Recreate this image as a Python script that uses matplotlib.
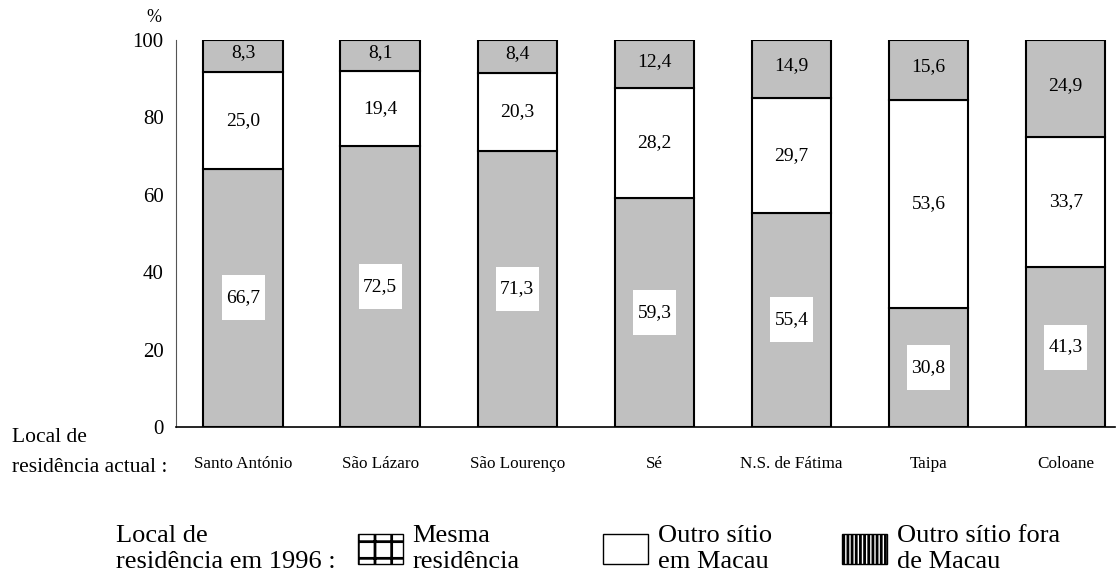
import matplotlib
matplotlib.use("Agg")
import matplotlib.pyplot as plt
from matplotlib.patches import Patch
import numpy as np

plt.rcParams["font.family"] = ["Liberation Serif", "DejaVu Serif"]
plt.rcParams["hatch.linewidth"] = 2.0

# Local de residencia actual
districts = ["Santo António", "São Lázaro", "São Lourenço", "Sé",
             "N.S. de Fátima", "Taipa", "Coloane"]
# Local de residencia em 1996 (%)
mesma = [66.7, 72.5, 71.3, 59.3, 55.4, 30.8, 41.3]
outro_macau = [25.0, 19.4, 20.3, 28.2, 29.7, 53.6, 33.7]
fora_macau = [8.3, 8.1, 8.4, 12.4, 14.9, 15.6, 24.9]

legend_labels = ["Mesma\nresidência", "Outro sítio\nem Macau", "Outro sítio fora\nde Macau"]

gray = "#c0c0c0"

fig = plt.figure(figsize=(11.18, 5.74), dpi=100)
ax = fig.add_axes([176 / 1118, 1 - 427 / 574, (1115 - 176) / 1118, (427 - 40) / 574])

x = np.arange(len(districts))
w = 0.58
mesma = np.array(mesma)
outro_macau = np.array(outro_macau)
fora_macau = np.array(fora_macau)

ax.bar(x, mesma, w, color=gray, edgecolor="black", linewidth=1.5)
ax.bar(x, outro_macau, w, bottom=mesma, color="white", edgecolor="black", linewidth=1.5)
ax.bar(x, fora_macau, w, bottom=mesma + outro_macau, color=gray,
       edgecolor="black", linewidth=1.5)

# white label backdrops inside the bottom segment
box_h = 11.6
ax.bar(x, box_h, 0.315, bottom=mesma / 2 - box_h / 2, color="white", linewidth=0)

def fmt(v):
    return f"{v:.1f}".replace(".", ",")

for i in range(len(districts)):
    ax.text(x[i], mesma[i] / 2, fmt(mesma[i]), ha="center", va="center", fontsize=14)
    ax.text(x[i], mesma[i] + outro_macau[i] / 2, fmt(outro_macau[i]),
            ha="center", va="center", fontsize=14)
    ax.text(x[i], mesma[i] + outro_macau[i] + fora_macau[i] / 2 + 0.8, fmt(fora_macau[i]),
            ha="center", va="center", fontsize=14)

ax.set_xlim(-0.49, 6.36)
ax.set_ylim(0, 100)
ax.set_yticks([0, 20, 40, 60, 80, 100])
ax.tick_params(axis="y", length=0, labelsize=15, pad=9)
ax.set_xticks(x)
ax.set_xticklabels(districts)
ax.tick_params(axis="x", length=0, labelsize=12.3, pad=21)
for s in ["top", "right"]:
    ax.spines[s].set_visible(False)
ax.spines["left"].set_color("#555555")
ax.spines["bottom"].set_linewidth(1.2)

fig.text(154 / 1118, 1 - 18 / 574, "%", ha="center", va="center", fontsize=13)
fig.text(12 / 1118, 1 - 438 / 574, "Local de", ha="left", va="center", fontsize=15.5)
fig.text(12 / 1118, 1 - 467 / 574, "residência actual :", ha="left", va="center", fontsize=15.5)

# legend
fig.text(116 / 1118, 1 - 549 / 574, "Local de\nresidência em 1996 :", ha="left",
         va="center", fontsize=19, linespacing=1.2)
handles = [Patch(facecolor="white", edgecolor="black", hatch="+"),
           Patch(facecolor="white", edgecolor="black"),
           Patch(facecolor="white", edgecolor="black", hatch="||||")]
box_x = [358, 603, 842]
for h, lab, bx in zip(handles, legend_labels, box_x):
    leg = fig.legend([h], [lab], loc="center left", bbox_to_anchor=(bx / 1118, 1 - 549 / 574),
                     frameon=False, fontsize=19, handlelength=1.72, handleheight=1.35,
                     handletextpad=0.35, borderpad=0, borderaxespad=0)
    for t in leg.get_texts():
        t.set_linespacing(1.2)

fig.savefig("out.png", dpi=100)
